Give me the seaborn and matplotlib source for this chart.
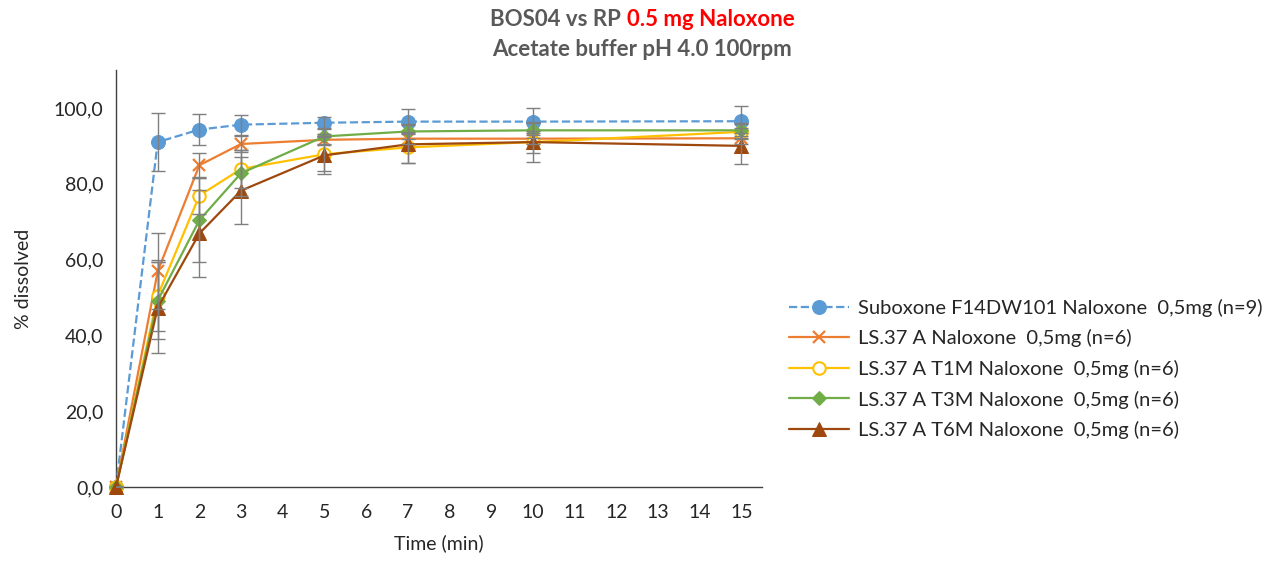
import numpy as np
import pandas as pd
import matplotlib
matplotlib.use("Agg")
import matplotlib.pyplot as plt
import seaborn as sns
from matplotlib.ticker import FuncFormatter

# --- data ---
time_min = [0, 1, 2, 3, 5, 7, 10, 15]

series_names = [
    "Suboxone F14DW101 Naloxone  0,5mg (n=9)",
    "LS.37 A Naloxone  0,5mg (n=6)",
    "LS.37 A T1M Naloxone  0,5mg (n=6)",
    "LS.37 A T3M Naloxone  0,5mg (n=6)",
    "LS.37 A T6M Naloxone  0,5mg (n=6)",
]

suboxone = [0, 91.0, 94.3, 95.6, 96.1, 96.4, 96.4, 96.5]
ls37_a = [0, 56.9, 84.9, 90.5, 91.6, 91.9, 91.9, 92.0]
ls37_t1m = [0, 50.5, 76.9, 83.9, 87.8, 89.6, 91.0, 93.7]
ls37_t3m = [0, 49.2, 70.4, 82.8, 92.5, 93.8, 94.1, 94.1]
ls37_t6m = [0, 47.3, 66.9, 78.2, 87.5, 90.4, 91.0, 90.0]

suboxone_sd = [0, 7.7, 4.1, 2.6, 1.5, 3.3, 3.6, 3.9]
ls37_a_sd = [0, 10.0, 3.3, 2.0, 1.5, 1.5, 1.5, 1.5]
ls37_t1m_sd = [0, 9.3, 5.0, 5.0, 4.5, 4.0, 3.0, 2.0]
ls37_t3m_sd = [0, 10.2, 11.0, 6.0, 2.0, 2.0, 2.0, 2.0]
ls37_t6m_sd = [0, 12.0, 11.5, 8.8, 5.0, 5.0, 5.2, 4.7]

colors = ["#5B9BD5", "#ED7D31", "#FFC000", "#70AD47", "#9E480E"]

values = [suboxone, ls37_a, ls37_t1m, ls37_t3m, ls37_t6m]
sds = [suboxone_sd, ls37_a_sd, ls37_t1m_sd, ls37_t3m_sd, ls37_t6m_sd]

# long table for seaborn
df = pd.DataFrame({
    "Time": np.tile(time_min, len(series_names)),
    "Dissolved": np.concatenate(values),
    "SD": np.concatenate(sds),
    "Series": np.repeat(series_names, len(time_min)),
})

sns.set_style("white")
plt.rcParams["font.family"] = ["Lato", "DejaVu Sans"]

fig = plt.figure(figsize=(12.82, 5.65), dpi=100)
ax = fig.add_axes([0.0905, 0.138, 0.504, 0.738])

marker_styles = [
    dict(marker="o", markersize=10, markerfacecolor=colors[0], markeredgecolor=colors[0]),
    dict(marker="x", markersize=9, markeredgewidth=1.6, markeredgecolor=colors[1]),
    dict(marker="o", markersize=9, markerfacecolor="white", markeredgecolor=colors[2], markeredgewidth=1.5),
    dict(marker="D", markersize=7, markerfacecolor=colors[3], markeredgecolor=colors[3]),
    dict(marker="^", markersize=10, markerfacecolor=colors[4], markeredgecolor=colors[4]),
]

for i, name in enumerate(series_names):
    sub = df[df["Series"] == name]
    sns.lineplot(data=sub, x="Time", y="Dissolved", ax=ax, color=colors[i],
                 linewidth=1.6, linestyle="--" if i == 0 else "-",
                 label=name, zorder=3 + i, clip_on=False, **marker_styles[i])
    ax.errorbar(sub["Time"], sub["Dissolved"], yerr=sub["SD"], fmt="none",
                ecolor="#7f7f7f", elinewidth=1.0, capsize=5, capthick=1.0, zorder=10)

ax.set_xlim(0, 15.5)
ax.set_ylim(0, 110)
ax.set_xticks(range(0, 16))
ax.set_yticks(range(0, 101, 20))
ax.yaxis.set_major_formatter(FuncFormatter(lambda v, p: f"{v:.1f}".replace(".", ",")))
ax.tick_params(axis="both", labelsize=14, length=0, labelcolor="#262626")
ax.tick_params(axis="x", pad=12)
ax.tick_params(axis="y", pad=9)
for s in ["top", "right"]:
    ax.spines[s].set_visible(False)
for s in ["left", "bottom"]:
    ax.spines[s].set_color("#404040")
    ax.spines[s].set_linewidth(1.0)
ax.set_xlabel("Time (min)", fontsize=14, color="#262626", labelpad=10)
ax.set_ylabel("% dissolved", fontsize=14, color="#262626", labelpad=16)

handles, labels = ax.get_legend_handles_labels()
ax.legend_.remove()
fig.legend(handles, labels, loc="center left", bbox_to_anchor=(0.601, 0.347),
           frameon=False, fontsize=14.5, handlelength=3.0, handletextpad=0.45,
           labelspacing=0.62, labelcolor="#262626")

# two-colour title
fig.canvas.draw()
renderer = fig.canvas.get_renderer()
title_kw = dict(fontsize=16, fontweight="bold", va="center")
part1 = fig.text(0, 0.966, "BOS04 vs RP ", color="#595959", **title_kw)
part2 = fig.text(0, 0.966, "0.5 mg Naloxone", color="#FF0000", **title_kw)
w1 = part1.get_window_extent(renderer).width / fig.bbox.width
w2 = part2.get_window_extent(renderer).width / fig.bbox.width
x0 = 0.501 - (w1 + w2) / 2
part1.set_x(x0)
part2.set_x(x0 + w1)
fig.text(0.501, 0.913, "Acetate buffer pH 4.0 100rpm", color="#595959", ha="center", **title_kw)

fig.savefig("out.png", dpi=100)
